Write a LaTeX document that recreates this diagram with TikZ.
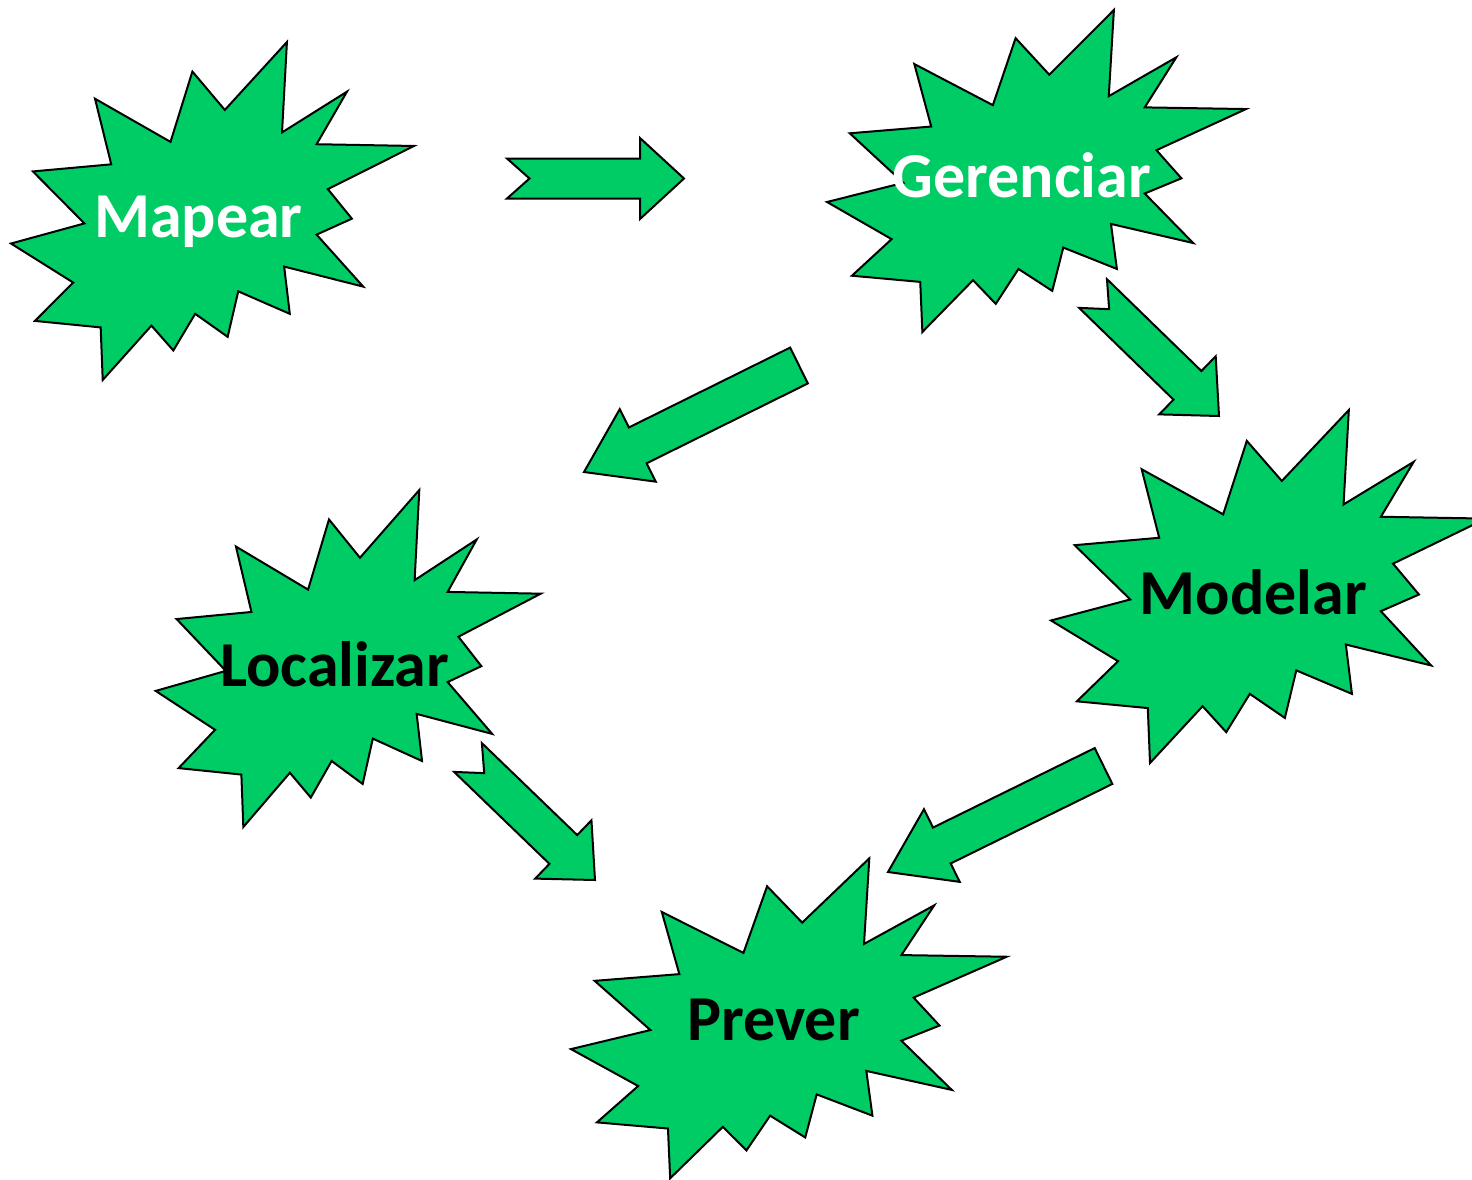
\documentclass[tikz,border=0pt]{standalone}
\usepackage{fontspec}
\setmainfont{Carlito}
\usetikzlibrary{calc}
\definecolor{burstgreen}{RGB}{0,204,102}
\tikzset{
 burst/.style={draw=black, fill=burstgreen, line width=2pt, line join=miter},
 burstlabel/.style={font=\bfseries\fontsize{64}{76}\selectfont, anchor=base, inner sep=0pt},
 arrowbody/.style={draw=black, fill=burstgreen, line width=2pt, line join=miter}
}
% block arrow: tail, tip, head length, notch depth
\newcommand{\blockarrow}[4]{%
 \coordinate (hb) at ($(#2)!#3!(#1)$);
 \draw[arrowbody] ($(#1)!20pt!90:(#2)$) -- ($(hb)!20pt!90:(#2)$) -- ($(hb)!40.5pt!90:(#2)$) -- (#2)
  -- ($(hb)!40.5pt!-90:(#2)$) -- ($(hb)!20pt!-90:(#2)$) -- ($(#1)!20pt!-90:(#2)$) -- ($(#1)!#4!(#2)$) -- cycle;
}
\begin{document}
\begin{tikzpicture}[x=1pt, y=-1pt]
 \useasboundingbox (0,0) rectangle (1472,1179);
 \clip (0,0) rectangle (1472,1179);
 \foreach \name/\bx/\by/\bw/\bh/\ty/\txt/\col in {mapear/11/42/403/338/0.577/Mapear/white,
   gerenciar/827/10/419/322/0.581/Gerenciar/white, localizar/155.7/490/385/337/0.582/Localizar/black,
   modelar/1051/410/435/353/0.578/Modelar/black, prever/571/858.3/435.7/320/0.568/Prever/black}{
  \begin{scope}[shift={(\bx,\by)}, xscale=\bw, yscale=\bh]
   \draw[burst] (0.5306,0.2010) -- (0.6847,0) -- (0.6725,0.2675) -- (0.8337,0.1469) -- (0.7583,0.3024)
    -- (1,0.3076) -- (0.7863,0.4353) -- (0.8458,0.5227) -- (0.7583,0.5699) -- (0.8739,0.7237)
    -- (0.6778,0.6644) -- (0.6918,0.8042) -- (0.5639,0.7377) -- (0.5376,0.8723) -- (0.4570,0.8042)
    -- (0.4028,0.9126) -- (0.3485,0.8391) -- (0.2276,1) -- (0.2225,0.8444) -- (0.0595,0.8252)
    -- (0.1542,0.7116) -- (0,0.5962) -- (0.1822,0.5367) -- (0.0543,0.3829) -- (0.2487,0.3619)
    -- (0.2084,0.1678) -- (0.3958,0.2955) -- (0.4501,0.0874) -- cycle;
   \node[burstlabel, text=\col] (\name) at (0.465,\ty) {\txt};
  \end{scope}
 }
 % arrow ends
 \coordinate (mapear-out) at (507,178.5);
 \coordinate (gerenciar-in) at (684,178.5);
 \coordinate (gerenciar-outL) at (799,365.5);
 \coordinate (localizar-in) at (584,472);
 \coordinate (gerenciar-outR) at (1093,293.5);
 \coordinate (modelar-in) at (1219,416);
 \coordinate (localizar-out) at (468,757.5);
 \coordinate (prever-inL) at (595,880);
 \coordinate (modelar-out) at (1103.5,766);
 \coordinate (prever-inR) at (888,872);
 \blockarrow{mapear-out}{gerenciar-in}{44pt}{22.5pt}
 \blockarrow{gerenciar-outL}{localizar-in}{60pt}{0pt}
 \blockarrow{gerenciar-outR}{modelar-in}{44pt}{22.5pt}
 \blockarrow{localizar-out}{prever-inL}{44pt}{22.5pt}
 \blockarrow{modelar-out}{prever-inR}{60pt}{0pt}
\end{tikzpicture}
\end{document}
